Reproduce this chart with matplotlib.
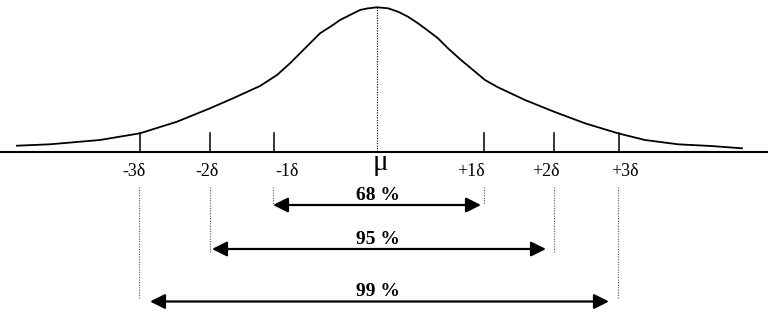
import matplotlib.pyplot as plt

# curve (pixel-like coords, y grows downward)
curve_x = [17, 50, 100, 140, 177, 210, 233, 260, 277, 290, 300, 310, 320, 333, 340, 350,
           360, 367, 377, 388, 398, 408, 418, 428, 438, 448, 461, 471, 485, 498, 525,
           554, 585, 618, 645, 678, 711, 742]
curve_y = [145.7, 144.3, 140, 133.3, 121.7, 108.3, 98.3, 86, 75, 63.3, 53.3, 43.3, 33.3,
           25, 20, 15, 10, 8.5, 7.3, 8.3, 11.7, 16.7, 23.3, 30.7, 38.3, 48.3, 60, 68.3, 80,
           87.3, 100, 111.7, 123.3, 133.3, 140, 144.3, 146, 148.3]

tick_x = [140, 210, 274, 484, 554, 619]
tick_labels = ['-3δ', '-2δ', '-1δ', '+1δ', '+2δ', '+3δ']
label_x = [134, 207, 287, 471, 546, 625]
mu_x = 377

# intervals: left end, right end, dotted guide bottom, arrow y, arrow ends, label
pct_labels = ['68 %', '95 %', '99 %']
guide_left = [273, 210, 139]
guide_right = [484, 554, 618]
guide_bottom = [205, 253, 298]
arrow_y = [205, 249, 301.5]
arrow_left = [273, 212, 150]
arrow_right = [481, 546, 609]
pct_y = [195, 240, 291.5]

fig = plt.figure(figsize=(7.68, 3.14), dpi=100)
ax = fig.add_axes([0, 0, 1, 1])
ax.set_xlim(0, 768)
ax.set_ylim(314, 0)
ax.axis('off')

axis_y = 151.5
ax.plot([0, 768], [axis_y, axis_y], color='black', lw=1.5)
ax.plot(curve_x, curve_y, color='black', lw=1.3, solid_joinstyle='round')

for x in tick_x:
    ax.plot([x, x], [133, axis_y], color='black', lw=1.1)
ax.plot([mu_x, mu_x], [7.3, axis_y], color='black', lw=0.8, ls=(0, (1, 1.3)))

for x, lab in zip(label_x, tick_labels):
    ax.text(x, 172, lab, ha='center', va='center', fontsize=13, family='Liberation Serif')
ax.text(mu_x + 3, 163, 'μ', ha='center', va='center', fontsize=21, family='Liberation Serif')

for i in range(3):
    for gx in (guide_left[i], guide_right[i]):
        ax.plot([gx, gx], [187, guide_bottom[i]], color='#555555', lw=0.8, ls=(0, (1, 1.3)))
    ax.annotate('', xy=(arrow_right[i], arrow_y[i]), xytext=(arrow_left[i], arrow_y[i]),
                arrowprops=dict(arrowstyle='<|-|>,head_length=0.6,head_width=0.3',
                                mutation_scale=15, lw=1.6, color='black',
                                shrinkA=0, shrinkB=0))
    ax.text(378, pct_y[i], pct_labels[i], ha='center', va='center', fontsize=14,
            fontweight='bold', family='Liberation Serif')

fig.savefig('out.png', dpi=100)
